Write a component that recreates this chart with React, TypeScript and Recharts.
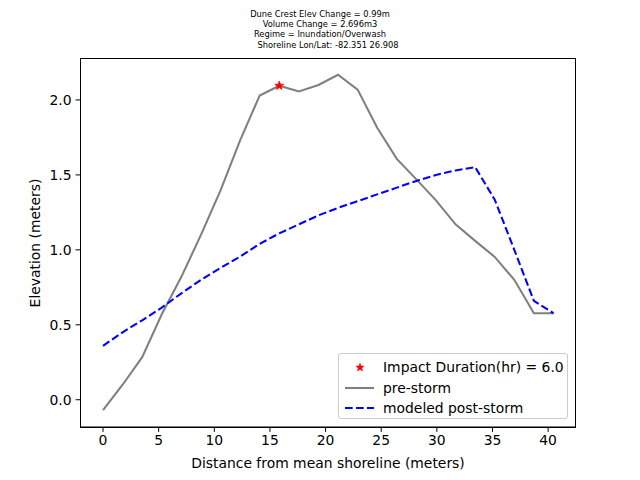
import React from 'react';
import { ComposedChart, Line, Scatter, XAxis, YAxis } from 'recharts';

const distances = [0, 1.76, 3.52, 5.28, 7.04, 8.8, 10.56, 12.32, 14.08, 15.84, 17.6, 19.36, 21.12, 22.88, 24.64, 26.4, 28.16, 29.92, 31.68, 33.44, 35.2, 36.96, 38.72, 40.48];
const preStorm = [-0.07, 0.1, 0.284, 0.57, 0.82, 1.1, 1.397, 1.73, 2.03, 2.095, 2.057, 2.1, 2.168, 2.069, 1.815, 1.607, 1.47, 1.33, 1.17, 1.06, 0.953, 0.8, 0.577, 0.577];
const postStorm = [0.36, 0.45, 0.53, 0.615, 0.71, 0.8, 0.88, 0.955, 1.04, 1.11, 1.17, 1.23, 1.28, 1.325, 1.37, 1.415, 1.46, 1.5, 1.53, 1.552, 1.335, 1.0, 0.66, 0.577];
const impactPoint = [{ x: 15.84, star: 2.095 }];
const xTicks = [0, 5, 10, 15, 20, 25, 30, 35, 40];
const yTicks = [0, 0.5, 1.0, 1.5, 2.0];
const titleLines = ['Dune Crest Elev Change = 0.99m', 'Volume Change = 2.696m3', 'Regime = Inundation/Overwash'];
const subTitle = 'Shoreline Lon/Lat: -82.351 26.908';
const legendLabels = ['Impact Duration(hr) = 6.0', 'pre-storm', 'modeled post-storm'];

const rows = distances.map((x, i) => ({ x, pre: preStorm[i], post: postStorm[i] }));

const xMin = Math.min(...distances);
const xMax = Math.max(...distances);
const allY = [...preStorm, ...postStorm];
const yMin = Math.min(...allY);
const yMax = Math.max(...allY);
const xPad = (xMax - xMin) * 0.05;
const yPad = (yMax - yMin) * 0.05;

const FONT = 'DejaVu Sans, sans-serif';

function starPoints(cx: number, cy: number, ro: number, ri: number) {
  const pts: string[] = [];
  for (let k = 0; k < 10; k++) {
    const r = k % 2 === 0 ? ro : ri;
    const a = -Math.PI / 2 + (k * Math.PI) / 5;
    pts.push(`${cx + r * Math.cos(a)},${cy + r * Math.sin(a)}`);
  }
  return pts.join(' ');
}

const StarShape = (props: any) => {
  const { cx, cy } = props;
  if (cx == null || cy == null) return null;
  return <polygon points={starPoints(cx, cy, 4.6, 1.9)} fill="#ff0000" stroke="#ff0000" strokeWidth={0.8} />;
};

export default function App() {
  return (
    <div style={{ position: 'absolute', left: 0, top: 0, width: 640, height: 480, background: '#fff', fontFamily: FONT }}>
      <ComposedChart
        width={640}
        height={480}
        data={rows}
        margin={{ top: 58, right: 64, bottom: 0, left: 0 }}
      >
        <XAxis
          dataKey="x"
          type="number"
          domain={[xMin - xPad, xMax + xPad]}
          ticks={xTicks}
          allowDataOverflow
          height={53}
          tickSize={4.9}
          tickMargin={3}
          stroke="#000"
          tick={{ fill: '#000', fontSize: 13.9, fontFamily: FONT }}
          tickFormatter={(v: number) => String(v)}
        />
        <YAxis
          type="number"
          domain={[yMin - yPad, yMax + yPad]}
          ticks={yTicks}
          allowDataOverflow
          width={80.5}
          tickSize={4.9}
          tickMargin={4}
          stroke="#000"
          tick={{ fill: '#000', fontSize: 13.9, fontFamily: FONT }}
          tickFormatter={(v: number) => v.toFixed(1)}
        />
        <Line dataKey="pre" stroke="#808080" strokeWidth={2.08} dot={false} isAnimationActive={false} />
        <Line dataKey="post" stroke="#0000ff" strokeWidth={2.08} strokeDasharray="7.7 3.3" dot={false} isAnimationActive={false} />
        <Scatter data={impactPoint} dataKey="star" shape={StarShape} isAnimationActive={false} />
      </ComposedChart>

      <div style={{ position: 'absolute', left: 80, top: 57.5, width: 496, height: 370, border: '1.1px solid #000', boxSizing: 'border-box', pointerEvents: 'none' }} />

      {titleLines.map((t, i) => (
        <div key={t} style={{ position: 'absolute', left: 0, width: 640, top: 9 + i * 9.8, textAlign: 'center', fontSize: 8.3, lineHeight: '10px', color: '#000', whiteSpace: 'nowrap' }}>
          <span>{t}</span>
        </div>
      ))}
      <div style={{ position: 'absolute', left: 0, width: 640, top: 39.5, textAlign: 'center', fontSize: 8.3, lineHeight: '10px', color: '#000', whiteSpace: 'nowrap' }}>
        <span style={{ position: 'relative', left: 8 }}>{subTitle}</span>
      </div>

      <div style={{ position: 'absolute', left: 0, width: 656, top: 454, textAlign: 'center', fontSize: 13.9, lineHeight: '18px', color: '#000' }}>
        Distance from mean shoreline (meters)
      </div>
      <div style={{ position: 'absolute', left: 35, top: 243, transform: 'translate(-50%, -50%) rotate(-90deg)', fontSize: 13.9, lineHeight: '18px', color: '#000', whiteSpace: 'nowrap' }}>
        Elevation (meters)
      </div>

      <div style={{ position: 'absolute', left: 338, top: 353, width: 230, height: 66, border: '1px solid #cccccc', borderRadius: 3, background: 'rgba(255,255,255,0.8)', boxSizing: 'border-box' }}>
        {legendLabels.map((label, i) => (
          <div key={label} style={{ position: 'absolute', left: 0, top: 3 + i * 20.6, height: 20, width: 228 }}>
            <svg width={36} height={20} style={{ position: 'absolute', left: 2, top: 0 }}>
              {i === 0 && <polygon points={starPoints(19, 10.5, 4.2, 1.8)} fill="#ff0000" stroke="#ff0000" strokeWidth={0.6} />}
              {i === 1 && <line x1={4} x2={33} y1={10} y2={10} stroke="#808080" strokeWidth={2.08} />}
              {i === 2 && <line x1={4} x2={33} y1={10} y2={10} stroke="#0000ff" strokeWidth={2.08} strokeDasharray="7.7 3.3" />}
            </svg>
            <span style={{ position: 'absolute', left: 44, top: 1, fontSize: 13.9, lineHeight: '18px', color: '#000', whiteSpace: 'nowrap' }}>{label}</span>
          </div>
        ))}
      </div>
    </div>
  );
}
